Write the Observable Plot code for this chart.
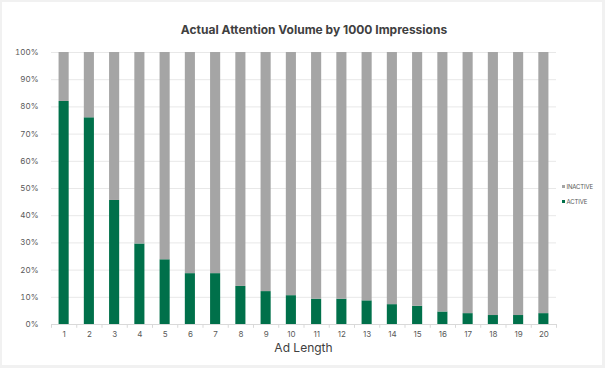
<!DOCTYPE html>
<html>
<head>
<meta charset="utf-8">
<script src="https://cdn.jsdelivr.net/npm/d3@7"></script>
<script src="https://cdn.jsdelivr.net/npm/@observablehq/plot@0.6"></script>
<style>
  html, body { margin: 0; padding: 0; background: #f1f1f1; }
  #wrap { position: relative; width: 605px; height: 368px; overflow: hidden; font-family: Inter, "Noto Sans", sans-serif; }
  #card { position: absolute; left: 2px; top: 2px; width: 600px; height: 363px; background: #fff; }
  #title { position: absolute; left: 0; width: 628px; top: 22px; text-align: center; font-size: 12px; font-weight: 700; color: #404040; }
  #chart { position: absolute; left: 0; top: 0; }
  #xlabel { position: absolute; left: 51px; width: 505px; top: 340px; text-align: center; font-size: 12px; color: #404040; }
  .leg { position: absolute; left: 562px; font-size: 6px; letter-spacing: -0.15px; color: #595959; display: flex; align-items: center; white-space: nowrap; }
  .leg i { display: inline-block; width: 3px; height: 3px; margin-right: 1.5px; }
</style>
</head>
<body>
<div id="wrap">
  <div id="card"></div>
  <div id="chart"></div>
  <div id="title">Actual Attention Volume by 1000 Impressions</div>
  <div id="xlabel">Ad Length</div>
  <div class="leg" style="top:183px"><i style="background:#a5a5a5"></i>INACTIVE</div>
  <div class="leg" style="top:198px"><i style="background:#00704a"></i>ACTIVE</div>
</div>
<script>
const adLength = ["1","2","3","4","5","6","7","8","9","10","11","12","13","14","15","16","17","18","19","20"];
const active = [82, 76, 45.6, 29.6, 23.8, 18.7, 18.7, 14, 12.1, 10.6, 9.3, 9.3, 8.7, 7.3, 6.7, 4.6, 4.0, 3.3, 3.3, 4.0];
const seriesNames = ["ACTIVE", "INACTIVE"];
const seriesColors = ["#00704a", "#a5a5a5"];
const yTicks = [0, 10, 20, 30, 40, 50, 60, 70, 80, 90, 100];

const rows = [];
adLength.forEach((a, i) => {
  rows.push({len: a, series: "ACTIVE", value: active[i]});
  rows.push({len: a, series: "INACTIVE", value: 100 - active[i]});
});

const W = 605, ML = 51, MR = 49;
const step = (W - ML - MR) / adLength.length;

const chart = Plot.plot({
  width: W,
  height: 368,
  marginLeft: ML,
  marginRight: MR,
  marginTop: 52,
  marginBottom: 44,
  style: {background: "transparent", fontFamily: "Inter, 'Noto Sans', sans-serif"},
  x: {domain: adLength, paddingInner: 0.6, paddingOuter: 0.3, round: false, label: null},
  y: {domain: [0, 100], label: null},
  color: {domain: seriesNames, range: seriesColors},
  marks: [
    Plot.ruleY(yTicks.filter(t => t > 0), {stroke: "#e8e8e8", strokeWidth: 1}),
    Plot.barY(rows, Plot.stackY({order: seriesNames}, {x: "len", y: "value", fill: "series"})),
    Plot.ruleY([0], {stroke: "#d9d9d9", strokeWidth: 1}),
    Plot.ruleX(adLength, {x: d => d, y1: 0, y2: -1.4, dx: -step / 2, stroke: "#d9d9d9"}),
    Plot.ruleX(adLength.slice(-1), {x: d => d, y1: 0, y2: -1.4, dx: step / 2, stroke: "#d9d9d9"}),
    Plot.axisX({tickSize: 0, tickPadding: 7, fontSize: 8, color: "#595959", label: null}),
    Plot.axisY({ticks: yTicks, tickSize: 0, tickPadding: 13, fontSize: 8, color: "#595959", tickFormat: d => d + "%", label: null})
  ]
});
document.getElementById("chart").appendChild(chart);
</script>
</body>
</html>
